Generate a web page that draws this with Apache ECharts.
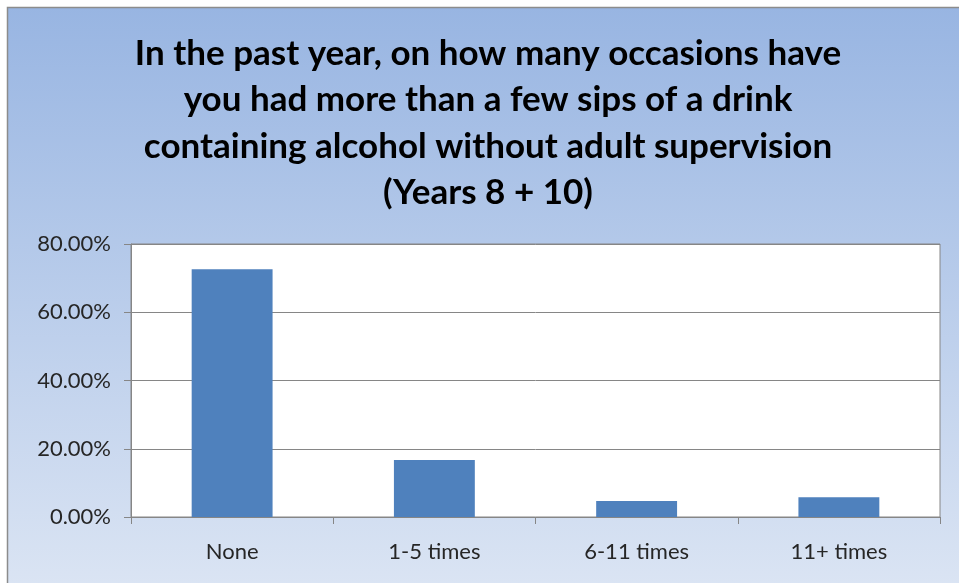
<!DOCTYPE html>
<html>
<head>
<meta charset="utf-8">
<script src="https://cdn.jsdelivr.net/npm/echarts@6/dist/echarts.min.js"></script>
<style>html,body{margin:0;padding:0;background:#fff;}#c{width:959px;height:583px;}</style>
</head>
<body>
<div id="c"></div>
<script>
const titleText = "In the past year, on how many occasions have\nyou had more than a few sips of a drink\ncontaining alcohol without adult supervision\n(Years 8 + 10)";
const categories = ["None", "1-5 times", "6-11 times", "11+ times"];
const values = [72.6, 16.7, 4.7, 5.8];
const yTicks = [0, 20, 40, 60, 80];

const chart = echarts.init(document.getElementById('c'));
chart.setOption({
  backgroundColor: '#ffffff',
  animation: false,
  graphic: [{
    type: 'rect', z: -10, silent: true,
    shape: { x: 7.5, y: 7.5, width: 970, height: 600 },
    style: {
      fill: new echarts.graphic.LinearGradient(0, 0, 0, 1, [
        { offset: 0, color: '#98b5e2' },
        { offset: 1, color: '#dde6f4' }
      ]),
      stroke: '#8c8c8c', lineWidth: 1.5
    }
  }],
  title: {
    text: titleText,
    left: 483,
    textAlign: 'center',
    top: 25,
    textStyle: {
      fontFamily: 'Lato', fontWeight: 'bold', fontSize: 35, lineHeight: 46.5, color: '#000'
    }
  },
  grid: {
    left: 131, right: 19, top: 244, bottom: 66,
    show: true, backgroundColor: '#ffffff', borderColor: '#868686', borderWidth: 1
  },
  xAxis: {
    type: 'category',
    data: categories,
    axisLine: { lineStyle: { color: '#868686', width: 1 } },
    axisTick: { show: true, length: 7, lineStyle: { color: '#868686' } },
    axisLabel: { fontFamily: 'Lato', fontSize: 22, color: '#262626', margin: 24 }
  },
  yAxis: {
    type: 'value',
    min: yTicks[0], max: yTicks[yTicks.length - 1], interval: 20,
    axisLine: { show: true, lineStyle: { color: '#868686' } },
    axisTick: { show: true, length: 7, lineStyle: { color: '#868686' } },
    splitLine: { lineStyle: { color: '#868686', width: 1 } },
    axisLabel: {
      fontFamily: 'Lato', fontSize: 22, color: '#262626', margin: 20,
      formatter: v => v.toFixed(2) + '%'
    }
  },
  series: [{
    type: 'bar',
    data: values,
    barCategoryGap: '60%',
    itemStyle: { color: '#4f81bd' }
  }]
});
</script>
</body>
</html>
